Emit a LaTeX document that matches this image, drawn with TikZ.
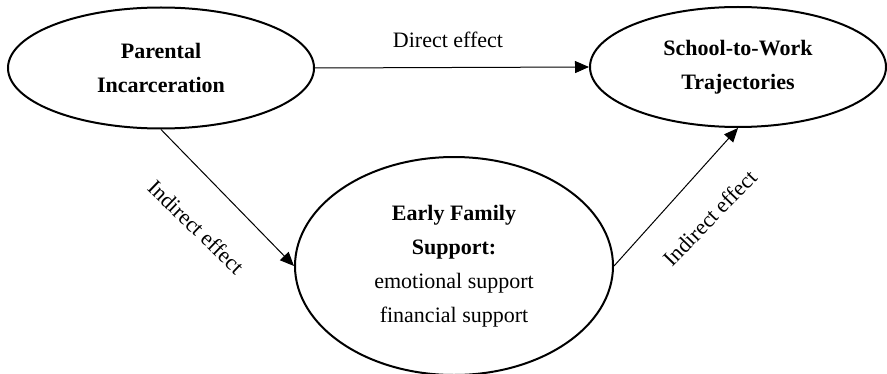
\documentclass[tikz,border=0pt]{standalone}
\usepackage{fontspec}
\setmainfont{Liberation Serif}
\usetikzlibrary{shapes.geometric,arrows.meta}
\begin{document}
\begin{tikzpicture}[x=0.5pt,y=-0.5pt,
  oval/.style={draw,ellipse,line width=1pt,inner sep=0pt,align=center,
    font=\fontsize{11}{17}\selectfont},
  conn/.style={line width=0.5pt,-{Triangle[length=7pt,width=6pt]}},
  lbl/.style={font=\fontsize{11}{13}\selectfont,inner sep=1pt}]
\useasboundingbox (0,0) rectangle (887,374);
\node[oval,minimum width=153pt,minimum height=60.5pt] (pi) at (161,68)
  {\bfseries Parental\\\bfseries Incarceration};
\node[oval,minimum width=148pt,minimum height=60pt] (stw) at (738,67)
  {\bfseries School-to-Work\\\bfseries Trajectories};
\node[oval,minimum width=159pt,minimum height=109pt] (efs) at (454,266)
  {\bfseries Early Family\\\bfseries Support:\\emotional support\\financial support};
\draw[conn] (pi.east) -- (stw.west);
\draw[conn] (pi.south) -- (efs.west);
\draw[conn] (efs.east) -- (stw.south);
\node[lbl] (l1) at (448,40) {Direct effect};
\node[lbl,rotate=-44] (l2) at (196,227) {Indirect effect};
\node[lbl,rotate=46] (l3) at (710,218) {Indirect effect};
\end{tikzpicture}
\end{document}
